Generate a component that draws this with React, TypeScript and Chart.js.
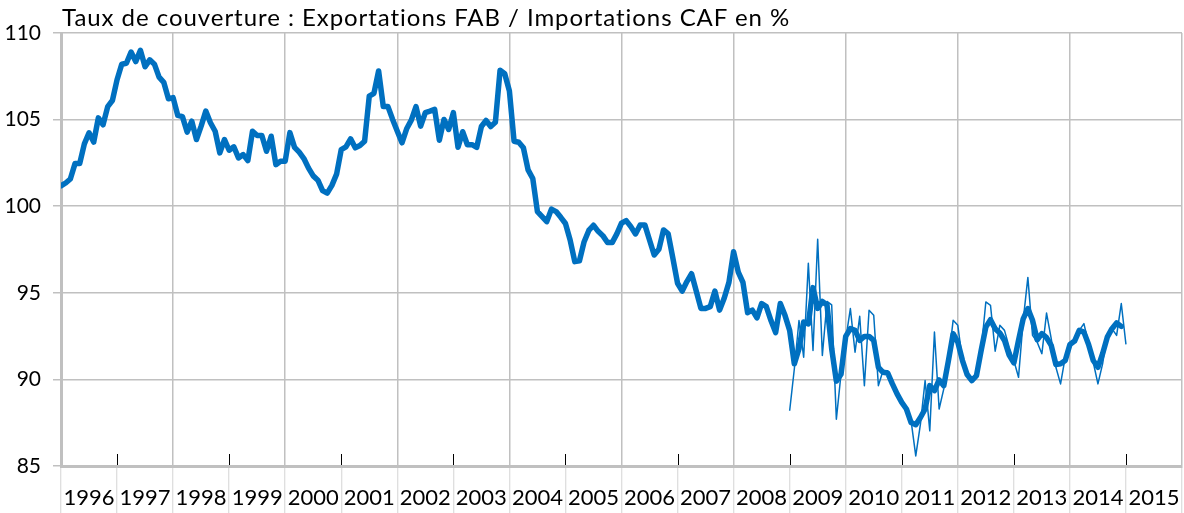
import React, { useEffect, useRef } from "react";
import { Chart, registerables } from "chart.js";

Chart.register(...registerables);

// ---- data ----
const TITLE = "Taux de couverture : Exportations FAB / Importations CAF en %";

// x categories: years (label shown in the middle of each year)
const yearLabels = [
  1996, 1997, 1998, 1999, 2000, 2001, 2002, 2003, 2004, 2005,
  2006, 2007, 2008, 2009, 2010, 2011, 2012, 2013, 2014, 2015,
];
// years carrying a grey vertical grid line
const gridYears = [1996, 1998, 2000, 2002, 2004, 2006, 2008, 2010, 2012, 2014, 2016];
// years carrying a small black tick mark
const tickYears = [1997, 1999, 2001, 2003, 2005, 2007, 2009, 2011, 2013, 2015];
const yTicks = [85, 90, 95, 100, 105, 110];

// smoothed series, monthly from Jan 1996
const trendStart = 1996;
const trendValues = [
  101.18, 101.34, 101.57, 102.46, 102.46, 103.6, 104.24, 103.7, 105.1, 104.7, 105.75, 106.1,
  107.3, 108.2, 108.25, 108.9, 108.35, 109.0, 108.05, 108.45, 108.2, 107.45, 107.15, 106.2,
  106.27, 105.24, 105.17, 104.28, 104.91, 103.85, 104.62, 105.49, 104.82, 104.33, 103.08, 103.85,
  103.23, 103.43, 102.79, 102.98, 102.63, 104.33, 104.08, 104.08, 103.17, 104.04, 102.4, 102.59,
  102.6, 104.25, 103.4, 103.12, 102.75, 102.2, 101.75, 101.5, 100.9, 100.75, 101.2, 101.85,
  103.27, 103.43, 103.89, 103.37, 103.5, 103.75, 106.36, 106.52, 107.81, 105.75, 105.75, 105.01,
  104.33, 103.66, 104.47, 104.97, 105.75, 104.62, 105.4, 105.49, 105.59, 103.81, 105.01, 104.43,
  105.4, 103.4, 104.3, 103.55, 103.55, 103.4, 104.6, 104.95, 104.6, 104.85, 107.85, 107.65,
  106.65, 103.75, 103.69, 103.37, 102.1, 101.6, 99.69, 99.4, 99.11, 99.83, 99.69, 99.36,
  99.0, 98.05, 96.8, 96.85, 97.95, 98.6, 98.9, 98.55, 98.3, 97.9, 97.9, 98.4,
  99.02, 99.17, 98.82, 98.4, 98.92, 98.92, 98.05, 97.18, 97.51, 98.63, 98.4, 96.99,
  95.55, 95.1, 95.65, 96.1, 95.1, 94.1, 94.1, 94.2, 95.1, 94.0, 94.7, 95.6,
  97.37, 96.2, 95.6, 93.85, 94.0, 93.55, 94.38, 94.2, 93.4, 92.7, 94.38, 93.7,
  92.83, 90.9, 91.77, 93.31, 93.2, 95.3, 94.1, 94.5, 94.3, 91.77, 89.9, 90.3,
  92.48, 92.93, 92.83, 92.25, 92.48, 92.48, 92.25, 90.7, 90.41, 90.36, 89.74, 89.16,
  88.67, 88.29, 87.51, 87.38, 87.8, 88.29, 89.64, 89.35, 89.97, 89.64, 91.09, 92.64,
  92.15, 91.09, 90.28, 89.93, 90.22, 91.67, 93.02, 93.45, 92.93, 92.68, 92.25, 91.4,
  90.95, 92.25, 93.5, 94.09, 93.41, 92.29, 92.64, 92.41, 91.96, 90.86, 90.9, 91.09,
  92.02, 92.21, 92.83, 92.73, 92.02, 91.09, 90.7, 91.48, 92.44, 92.93, 93.26, 93.06,
];

// raw monthly series, from Jan 2009
const monthlyStart = 2009;
const monthlyValues = [
  88.19, 90.6, 93.4, 91.28, 96.7, 91.67, 98.09, 91.38, 94.5, 94.3, 87.7, 90.32,
  92.3, 94.09, 91.57, 93.64, 89.64, 93.99, 93.7, 89.64, 90.51, 90.5, 89.9, 89.0,
  88.77, 88.1, 87.61, 85.58, 87.42, 89.93, 87.03, 92.73, 88.29, 89.45, 91.09, 93.41,
  93.12, 91.09, 90.22, 89.83, 90.41, 91.67, 94.47, 94.28, 91.63, 93.12, 92.83, 91.86,
  91.09, 90.12, 93.41, 95.89, 92.54, 92.15, 91.48, 93.83, 92.35, 90.7, 89.74, 91.28,
  92.06, 92.29, 92.83, 93.22, 92.06, 90.99, 89.74, 90.9, 92.54, 92.93, 92.54, 94.38,
  92.02,
];

const BLUE = "#0070c0";
const GRID = "#c0c0c0";
const FONT = "Lato, 'Open Sans', sans-serif";

const toPoints = (start: number, vals: number[]) =>
  vals.map((v, i) => ({ x: start + i / 12, y: v }));

const oddYearTicks = {
  id: "oddYearTicks",
  afterDraw(chart: any) {
    const { ctx, chartArea, scales } = chart;
    const xs = scales.x;
    ctx.save();
    ctx.strokeStyle = "#000";
    ctx.lineWidth = 1;
    for (const yr of tickYears) {
      const px = Math.round(xs.getPixelForValue(yr)) + 0.5;
      ctx.beginPath();
      ctx.moveTo(px, chartArea.bottom - 12);
      ctx.lineTo(px, chartArea.bottom - 1);
      ctx.stroke();
    }
    ctx.restore();
  },
};

export default function App() {
  const ref = useRef<HTMLCanvasElement | null>(null);

  useEffect(() => {
    if (!ref.current) return;
    const lastYear = yearLabels[yearLabels.length - 1] + 1;
    const chart = new Chart(ref.current, {
      type: "line",
      data: {
        datasets: [
          {
            label: "Mensuel",
            data: toPoints(monthlyStart, monthlyValues),
            borderColor: BLUE,
            borderWidth: 1.5,
            pointRadius: 0,
            tension: 0,
            borderJoinStyle: "round",
          },
          {
            label: "Tendance",
            data: toPoints(trendStart, trendValues),
            borderColor: BLUE,
            borderWidth: 5.5,
            pointRadius: 0,
            tension: 0,
            borderJoinStyle: "round",
            borderCapStyle: "round",
          },
        ],
      },
      options: {
        animation: false,
        responsive: false,
        devicePixelRatio: 1,
        layout: { padding: { top: 33, right: 2, left: 0, bottom: 0 } },
        plugins: { legend: { display: false }, tooltip: { enabled: false }, title: { display: false } },
        scales: {
          x: {
            type: "linear",
            min: yearLabels[0],
            max: lastYear,
            afterBuildTicks: (s: any) => {
              const t: any[] = yearLabels.map((v) => ({ value: v }));
              t.push({ value: lastYear });
              s.ticks = t;
            },
            afterFit: (s: any) => {
              s.height = 47;
            },
            grid: {
              color: (c: any) =>
                c.tick && gridYears.includes(c.tick.value) ? GRID : "rgba(0,0,0,0)",
              lineWidth: 1.5,
              tickColor: "#d4d4d4",
              tickLength: 47,
              tickWidth: 1,
            },
            border: { display: true, color: GRID, width: 3 },
            ticks: {
              autoSkip: false,
              maxRotation: 0,
              minRotation: 0,
              labelOffset: 28,
              padding: -28,
              color: "#000",
              font: { family: FONT, size: 22 },
              callback: (v: any) => (yearLabels.includes(v) ? String(v) : ""),
            },
          },
          y: {
            min: yTicks[0],
            max: yTicks[yTicks.length - 1],
            afterBuildTicks: (s: any) => {
              s.ticks = yTicks.map((v) => ({ value: v }));
            },
            afterFit: (s: any) => {
              s.width = 61;
            },
            grid: { color: GRID, lineWidth: 1.5, tickLength: 8, tickColor: GRID },
            border: { display: true, color: GRID, width: 3 },
            ticks: { color: "#000", padding: 12, font: { family: FONT, size: 21 } },
          },
        },
      },
      plugins: [oddYearTicks],
    } as any);
    return () => chart.destroy();
  }, []);

  return (
    <div style={{ position: "absolute", left: 0, top: 0, width: 1184, height: 513 }}>
      <div
        style={{
          position: "absolute",
          left: 62,
          top: 3,
          fontFamily: FONT,
          fontSize: 24,
          letterSpacing: "0.95px",
          lineHeight: "27px",
          color: "#000",
          whiteSpace: "nowrap",
        }}
      >
        {TITLE}
      </div>
      <canvas ref={ref} width={1184} height={513} style={{ display: "block" }} />
    </div>
  );
}
